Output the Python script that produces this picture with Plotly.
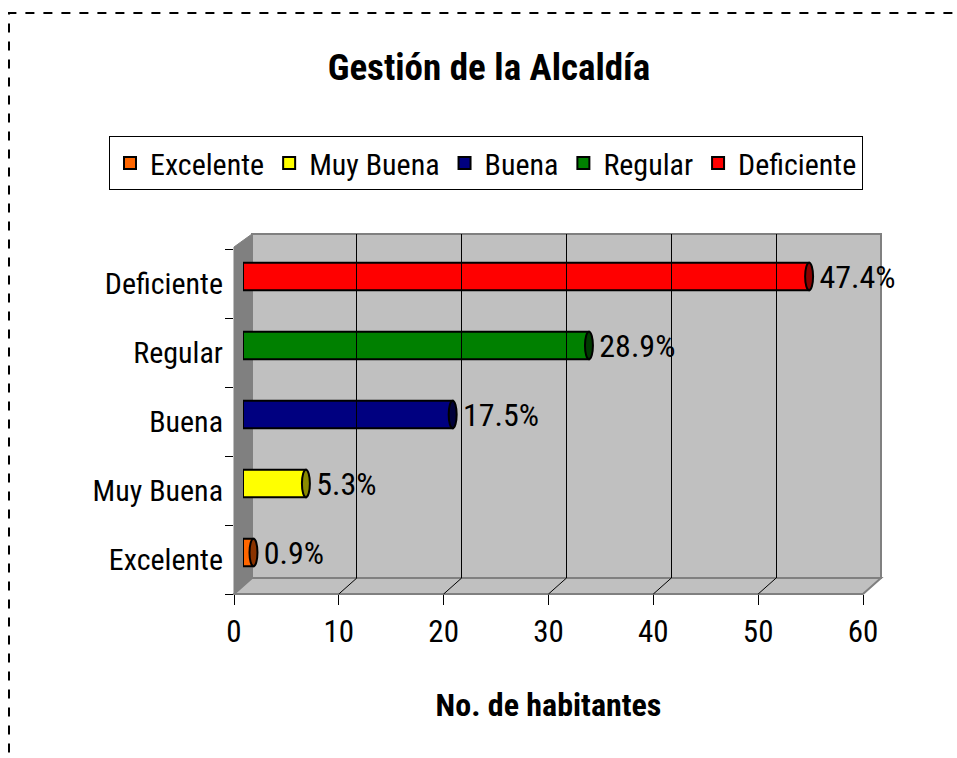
import plotly.graph_objects as go

# ---------------- data ----------------
categories = ["Excelente", "Muy Buena", "Buena", "Regular", "Deficiente"]
habitantes = [1, 6, 20, 33, 54]
colors = ["#FF6600", "#FFFF00", "#000080", "#008000", "#FF0000"]
cap_colors = ["#8A3300", "#8A8A00", "#00003A", "#003A00", "#8A0000"]
x_ticks = [0, 10, 20, 30, 40, 50, 60]
x_range = [0, 60]

title_text = "Gestión de la Alcaldía"
x_title = "No. de habitantes"

W, H = 957, 758
FONT = "Roboto Condensed, Liberation Sans Narrow, Liberation Sans, sans-serif"
FS = 30

def fx(p):
    return p / W

def fy(p):
    return 1 - p / H

# 3D box geometry (pixels)
FRONT_X0, FRONT_X1 = 234, 863
BACK_X0, BACK_X1 = 252, 881
MID_X0, MID_X1 = 243, 872
FRONT_Y0, FRONT_Y1 = 249, 594   # top, bottom of front category axis
BACK_Y0, BACK_Y1 = 234, 578
MID_Y0, MID_Y1 = 242, 587

total = sum(habitantes)
pct_labels = ["\u00a0" + f"{v / total * 100:.1f}%" for v in habitantes]

fig = go.Figure()

for i, (cat, val, col, lab) in enumerate(zip(categories, habitantes, colors, pct_labels)):
    fig.add_trace(go.Bar(
        x=[val], y=[cat], orientation="h", name=cat,
        marker=dict(color=col, line=dict(color="black", width=2)),
        width=0.4, text=[lab], textposition="outside", constraintext="none", textangle=0,
        textfont=dict(family=FONT, size=32, color="black"),
        cliponaxis=False, xaxis="x", yaxis="y",
    ))

# empty traces to realise the helper subplots
fig.add_trace(go.Scatter(x=[], y=[], xaxis="x2", yaxis="y2", showlegend=False, hoverinfo="skip"))
fig.add_trace(go.Scatter(x=[], y=[], xaxis="x3", yaxis="y3", showlegend=False, hoverinfo="skip"))

shapes = []
def path(points):
    return "M " + " L ".join(f"{fx(x):.5f},{fy(y):.5f}" for x, y in points) + " Z"

# back wall
shapes.append(dict(type="path", xref="paper", yref="paper", layer="below",
                   path=path([(BACK_X0, BACK_Y0), (BACK_X1, BACK_Y0), (BACK_X1, BACK_Y1), (BACK_X0, BACK_Y1)]),
                   fillcolor="#C0C0C0", line=dict(color="#808080", width=2)))
# side wall
shapes.append(dict(type="path", xref="paper", yref="paper", layer="below",
                   path=path([(FRONT_X0, FRONT_Y0 - 2), (BACK_X0, BACK_Y0), (BACK_X0, BACK_Y1), (FRONT_X0, FRONT_Y1)]),
                   fillcolor="#808080", line=dict(color="#808080", width=1)))
# floor
shapes.append(dict(type="path", xref="paper", yref="paper", layer="below",
                   path=path([(FRONT_X0, FRONT_Y1), (BACK_X0, BACK_Y1), (BACK_X1, BACK_Y1), (FRONT_X1, FRONT_Y1)]),
                   fillcolor="#C0C0C0", line=dict(color="#808080", width=2)))
# floor diagonals at ticks
sc_f = (FRONT_X1 - FRONT_X0) / (x_range[1] - x_range[0])
sc_b = (BACK_X1 - BACK_X0) / (x_range[1] - x_range[0])
for t in x_ticks[1:-1]:
    shapes.append(dict(type="line", xref="paper", yref="paper", layer="below",
                       x0=fx(FRONT_X0 + sc_f * t), y0=fy(FRONT_Y1),
                       x1=fx(BACK_X0 + sc_b * t), y1=fy(BACK_Y1),
                       line=dict(color="black", width=1)))
# bar end caps (cylinder ends)
for i, (val, cc) in enumerate(zip(habitantes, cap_colors)):
    shapes.append(dict(type="circle", xref="x", yref="y", layer="above",
                       x0=val - 0.38, x1=val + 0.38, y0=i - 0.2, y1=i + 0.2,
                       fillcolor=cc, line=dict(color="black", width=2)))
# dashed frame
shapes.append(dict(type="rect", xref="paper", yref="paper", layer="above",
                   x0=fx(9), x1=1.2, y0=-0.2, y1=fy(13),
                   line=dict(color="black", width=2, dash="dash"), fillcolor="rgba(0,0,0,0)"))

fig.update_layout(
    width=W, height=H,
    margin=dict(l=0, r=0, t=0, b=0, pad=0, autoexpand=False),
    paper_bgcolor="white", plot_bgcolor="rgba(0,0,0,0)",
    font=dict(family=FONT, size=FS, color="black"),
    barmode="overlay",
    title=dict(text=f"<b>{title_text}</b>", x=fx(489), xanchor="center",
               y=fy(67), yanchor="middle", font=dict(family=FONT, size=37, color="black")),
    showlegend=True,
    legend=dict(orientation="h", x=fx(486), xanchor="center", y=fy(163), yanchor="middle",
                bordercolor="black", borderwidth=1, bgcolor="white",
                font=dict(family=FONT, size=FS), traceorder="normal",
                itemwidth=30, tracegroupgap=0),
    shapes=shapes,
    # bars axis (mid depth)
    xaxis=dict(domain=[fx(MID_X0), fx(MID_X1)], range=x_range, visible=False, anchor="y",
               fixedrange=True, automargin=False),
    yaxis=dict(domain=[fy(MID_Y1), fy(MID_Y0)], type="category", categoryorder="array",
               categoryarray=categories, range=[-0.5, len(categories) - 0.5],
               visible=False, anchor="x", fixedrange=True, automargin=False),
    # front axes with ticks and labels
    xaxis2=dict(domain=[fx(FRONT_X0), fx(FRONT_X1)], range=x_range, anchor="y2", automargin=False,
                tickvals=x_ticks, ticks="outside", ticklen=10, tickcolor="black", tickwidth=1,
                showgrid=False, zeroline=False, showline=False,
                tickfont=dict(family=FONT, size=31),
                title=dict(text=f"<b>{x_title}</b>", font=dict(family=FONT, size=32), standoff=44)),
    yaxis2=dict(domain=[fy(FRONT_Y1), fy(FRONT_Y0)], range=[-0.5, len(categories) - 0.5], anchor="x2",
                tickvals=list(range(len(categories))), ticktext=categories, ticks="", automargin=False,
                showgrid=False, zeroline=False, showline=False, ticklabelstandoff=10,
                minor=dict(tick0=0.5, dtick=1, ticks="outside", ticklen=8, tickcolor="black"),
                tickfont=dict(family=FONT, size=FS)),
    # back wall grid
    xaxis3=dict(domain=[fx(BACK_X0), fx(BACK_X1)], range=x_range, anchor="y3", automargin=False,
                tickvals=x_ticks[1:-1], showticklabels=False, ticks="",
                showgrid=True, gridcolor="black", gridwidth=1, zeroline=False, showline=False),
    yaxis3=dict(domain=[fy(BACK_Y1), fy(BACK_Y0)], range=[0, 1], visible=False, showgrid=False,
                automargin=False),
)

fig.write_html(
    "out.html",
    config={"displayModeBar": False},
    post_script="document.documentElement.style.margin='0px';document.body.style.margin='0px';"
                "document.documentElement.style.overflow='hidden';document.body.style.overflow='hidden';",
)
